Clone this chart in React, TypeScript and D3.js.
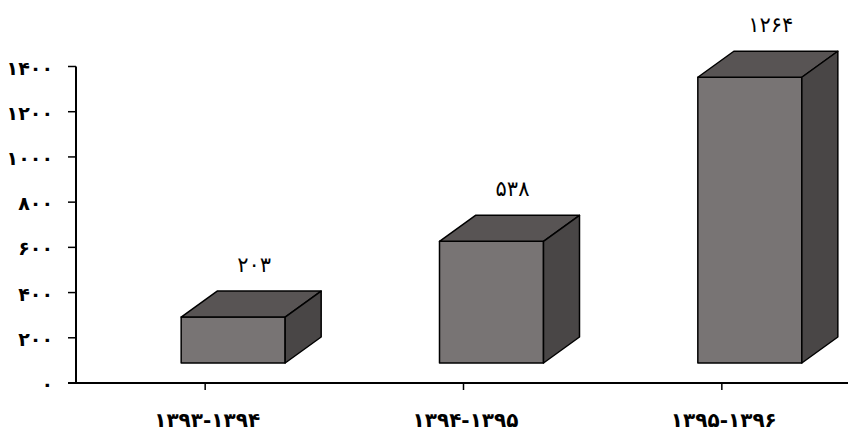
import React from "react";
import * as d3 from "d3";

const categories = ["۱۳۹۳-۱۳۹۴", "۱۳۹۴-۱۳۹۵", "۱۳۹۵-۱۳۹۶"];
const values = [203, 538, 1264];
const valueLabels = ["۲۰۳", "۵۳۸", "۱۲۶۴"];
const yTicks = [0, 200, 400, 600, 800, 1000, 1200, 1400];
const yTickLabels = ["۰", "۲۰۰", "۴۰۰", "۶۰۰", "۸۰۰", "۱۰۰۰", "۱۲۰۰", "۱۴۰۰"];

const W = 848;
const H = 432;
const axisX = 76;
const axisY = 383;
const depthX = 36;
const depthY = 26;
const frontW = 104;
const floorLift = 20;

export default function App() {
  const x = d3.scaleBand<string>().domain(categories).range([axisX, 851]).padding(0);
  const y = d3.scaleLinear().domain([0, 1400]).range([axisY, 66.5]);
  const font = "'DejaVu Sans', sans-serif";

  return (
    <svg width={W} height={H} style={{ position: "absolute", left: 0, top: 0, background: "#fff" }}>
      {categories.map((c, i) => {
        const cx = (x(c) as number) + x.bandwidth() / 2;
        const fl = cx - 24;
        const fr = fl + frontW;
        const fb = y(0) - floorLift;
        const ft = fb - (y(0) - y(values[i]));
        const top = `M${fl},${ft} L${fl + depthX},${ft - depthY} L${fr + depthX},${ft - depthY} L${fr},${ft} Z`;
        const side = `M${fr},${ft} L${fr + depthX},${ft - depthY} L${fr + depthX},${fb - depthY} L${fr},${fb} Z`;
        return (
          <g key={c} stroke="#000" strokeWidth={1.5} strokeLinejoin="round">
            <rect x={fl} y={ft} width={frontW} height={fb - ft} fill="#787474" />
            <path d={top} fill="#585454" />
            <path d={side} fill="#494646" />
            <text
              x={fl + (frontW + depthX) / 2 + 3}
              y={ft - 45}
              textAnchor="middle"
              fontFamily={font}
              fontSize={21}
              fill="#000"
              stroke="none"
            >
              {valueLabels[i]}
            </text>
          </g>
        );
      })}

      <line x1={axisX} x2={axisX} y1={y(1400)} y2={axisY} stroke="#000" strokeWidth={2} />
      {yTicks.map((t, i) => (
        <g key={t}>
          <line x1={axisX - 8} x2={axisX} y1={y(t)} y2={y(t)} stroke="#000" strokeWidth={1.5} />
          <text
            x={53}
            y={y(t) + 1}
            textAnchor="end"
            dominantBaseline="central"
            fontFamily={font}
            fontWeight="bold"
            fontSize={19}
            fill="#000"
          >
            {yTickLabels[i]}
          </text>
        </g>
      ))}

      <line x1={axisX - 8} x2={W} y1={axisY} y2={axisY} stroke="#000" strokeWidth={2} />
      {categories.map((c) => {
        const cx = (x(c) as number) + x.bandwidth() / 2;
        return (
          <g key={c}>
            <line x1={cx} x2={cx} y1={axisY} y2={axisY + 7} stroke="#000" strokeWidth={1.5} />
            <text
              x={cx + 2}
              y={427}
              textAnchor="middle"
              fontFamily={font}
              fontWeight="bold"
              fontSize={20}
              fill="#000"
            >
              {c}
            </text>
          </g>
        );
      })}
    </svg>
  );
}
